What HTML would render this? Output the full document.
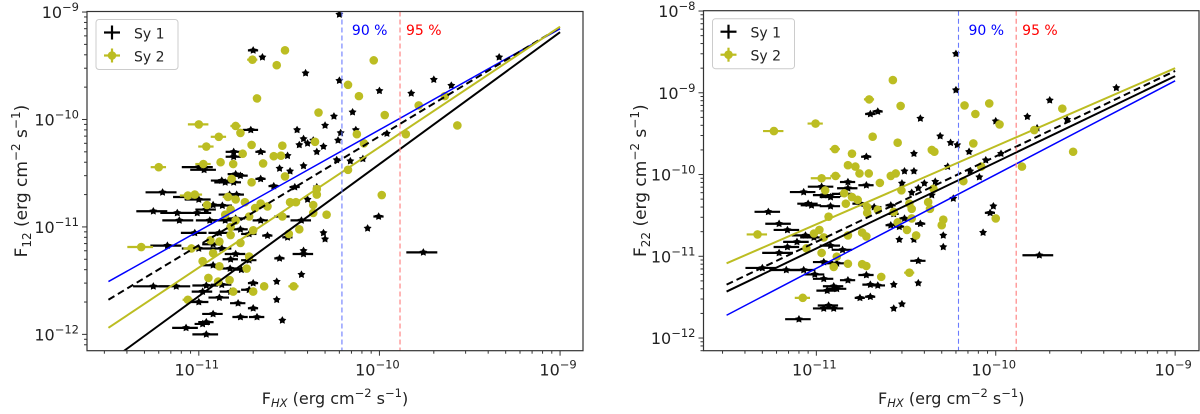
<!DOCTYPE html>
<html><head><meta charset="utf-8">
<style>
html,body{margin:0;padding:0;background:#fff;}
svg{display:block;font-family:"DejaVu Sans","Liberation Sans",sans-serif;}
</style></head>
<body>
<svg id="chart" width="1200" height="414" viewBox="0 0 1200 414" xmlns="http://www.w3.org/2000/svg"></svg>
<script>
// ---------- Panel 1 (F12 vs FHX) ----------
const p1Sy1X = [6.0e-11,2.0e-11,2.25e-11,3.9e-11,6.0e-11,2.0e-10,2.5e-10,4.6e-10,1.0e-10,1.5e-10,7.1e-11,5.6e-11,5.0e-11,1.94e-11,3.5e-11,7.4e-11,6.1e-11,1.1e-10,3.8e-11,4.3e-11,4.0e-11,3.6e-11,5.9e-11,4.9e-11,4.5e-11,1.56e-11,1.56e-11,2.2e-11,3.1e-11,5.8e-11,6.9e-11,8.1e-11,3.8e-11,1.0e-11,1.07e-11,2.8e-11,3.2e-11,1.6e-11,1.7e-11,2.2e-11,1.34e-11,1.4e-11,1.56e-11,2.6e-11,3.4e-11,4.5e-11,6.3e-12,8.6e-12,1.0e-11,1.48e-11,1.62e-11,4.0e-11,1.2e-11,1.35e-11,1.1e-11,5.6e-12,7.6e-12,9.8e-12,7.8e-12,1.15e-11,1.4e-11,1.6e-11,2.2e-11,2.9e-11,3.7e-11,4.9e-11,5.0e-11,8.6e-11,9.9e-11,9.5e-12,1.3e-11,1.7e-11,1.9e-11,2.4e-11,3.1e-11,6.7e-12,1.0e-11,1.34e-11,1.6e-11,1.2e-11,3.8e-11,3.8e-11,1.75e-10,2.8e-11,1.9e-11,1.5e-11,1.2e-11,1.49e-11,1.72e-11,3.7e-11,5.6e-12,7.5e-12,1.1e-11,1.34e-11,1.05e-11,1.5e-11,1.9e-11,2.0e-11,2.7e-11,2.7e-11,1.3e-11,1.0e-11,1.65e-11,2.0e-11,1.2e-11,1.1e-11,1.05e-11,8.5e-12,1.1e-11,1.7e-11,2.1e-11,2.9e-11];
const p1Sy1Y = [9.5e-10,4.4e-10,3.8e-10,2.7e-10,2.3e-10,2.35e-10,2.07e-10,3.8e-10,1.85e-10,1.75e-10,1.17e-10,1.07e-10,8.8e-11,8.0e-11,8.0e-11,8.0e-11,7.5e-11,7.4e-11,6.6e-11,6.4e-11,6.0e-11,5.8e-11,6.4e-11,5.6e-11,5.0e-11,5.0e-11,4.5e-11,5.0e-11,4.6e-11,4.2e-11,4.1e-11,4.3e-11,3.7e-11,3.6e-11,3.4e-11,3.5e-11,3.3e-11,3.1e-11,3.0e-11,2.8e-11,2.7e-11,2.6e-11,2.6e-11,2.4e-11,2.35e-11,2.35e-11,2.1e-11,1.9e-11,1.8e-11,2.0e-11,2.0e-11,1.8e-11,1.6e-11,1.58e-11,1.45e-11,1.4e-11,1.35e-11,1.35e-11,1.15e-11,1.15e-11,1.15e-11,1.2e-11,1.15e-11,1.25e-11,1.15e-11,8.8e-12,7.7e-12,9.7e-12,1.25e-11,8.8e-12,8.8e-12,9.5e-12,8.6e-12,8.3e-12,8.0e-12,6.7e-12,6.3e-12,6.3e-12,5.6e-12,6.9e-12,6.0e-12,5.6e-12,5.8e-12,5.1e-12,4.9e-12,5.0e-12,4.4e-12,4.1e-12,4.0e-12,3.6e-12,2.8e-12,2.8e-12,2.85e-12,2.9e-12,2.5e-12,2.5e-12,2.6e-12,3.0e-12,3.1e-12,2.1e-12,2.2e-12,2.0e-12,1.95e-12,1.75e-12,1.55e-12,1.3e-12,1.25e-12,1.15e-12,1.0e-12,1.45e-12,1.45e-12,1.35e-12];
const p1Sy1Xe = [0,.1,.05,0,0,0,0,0,0,0,0,0,0,.15,0,0,0,0,0,0,0,0,0,0,0,.15,.15,.1,0,0,0,0,0,.3,.25,0,0,.15,.15,.1,.2,.2,.15,.1,.1,0,.3,.25,.25,.2,.15,0,.2,.2,.2,.3,.3,.3,.3,.25,.2,.2,.15,.15,.2,0,0,0,.1,.25,.2,.15,.15,.1,.1,.3,.3,.2,.2,.2,0,.2,.3,.1,.15,.15,.2,.2,.15,0,.35,.3,.25,.2,.2,.2,.15,.1,0,0,.2,.2,.15,.1,.2,.15,.15,.25,.25,.15,.15,0];
const p1Sy2X = [3.0e-11,1.98e-11,2.7e-11,9.3e-11,2.1e-11,6.7e-11,7.7e-11,2.3e-10,1.65e-10,4.6e-11,1.07e-10,2.7e-10,1.0e-11,1.6e-11,1.7e-11,1.29e-11,7.5e-11,1.4e-10,1.1e-11,1.96e-11,2.9e-11,4.4e-11,8.2e-11,1.75e-11,2.6e-11,2.85e-11,2.27e-11,1.32e-11,1.06e-11,1.55e-11,6.0e-12,6.7e-11,3.0e-11,1.52e-11,1.96e-11,4.5e-11,4.5e-11,1.03e-10,9.5e-12,8.7e-12,1.45e-11,1.6e-11,1.8e-11,1.5e-11,1.11e-11,2.2e-11,2.05e-11,1.9e-11,2.4e-11,3.2e-11,3.45e-11,4.3e-11,5.1e-11,2.9e-11,4.3e-11,1.4e-11,1.6e-11,1.5e-11,3.6e-11,2.0e-11,1.16e-11,1.3e-11,1.5e-11,1.7e-11,1.2e-11,3.15e-11,4.8e-12,9.1e-12,1.9e-11,1.05e-11,1.3e-11,1.84e-11,1.48e-11,1.55e-11,2.0e-11,1.13e-11,1.28e-11,2.3e-11,3.35e-11,8.7e-12];
const p1Sy2Y = [4.4e-10,3.6e-10,3.2e-10,3.55e-10,1.57e-10,2.1e-10,1.65e-10,1.65e-10,1.35e-10,1.16e-10,1.1e-10,8.8e-11,9.0e-11,8.7e-11,7.5e-11,6.9e-11,7.3e-11,7.3e-11,5.6e-11,5.8e-11,5.7e-11,6.2e-11,6.0e-11,4.8e-11,4.55e-11,4.6e-11,3.9e-11,4.0e-11,3.85e-11,3.85e-11,3.6e-11,3.4e-11,2.95e-11,2.8e-11,2.6e-11,2.25e-11,2.0e-11,1.98e-11,2.0e-11,1.96e-11,1.9e-11,1.8e-11,1.7e-11,1.45e-11,1.6e-11,1.65e-11,1.5e-11,1.25e-11,1.55e-11,1.7e-11,1.7e-11,1.6e-11,1.3e-11,1.25e-11,1.35e-11,1.3e-11,1.15e-11,1.0e-11,9.5e-12,9.3e-12,7.5e-12,7.3e-12,8.4e-12,7.1e-12,5.7e-12,8.6e-12,6.5e-12,6.3e-12,5.3e-12,4.8e-12,4.3e-12,4.1e-12,3.2e-12,2.5e-12,2.5e-12,3.35e-12,3.1e-12,2.8e-12,2.8e-12,2.1e-12];
const p1Sy2Xe = [0,.1,0,0,0,0,0,0,0,0,0,0,.2,.1,0,.15,0,0,.15,0,0,0,0,0,.05,0,0,0,.15,0,.15,0,0,0,0,0,0,0,.15,.15,.1,0,0,0,0,0,0,0,0,0,0,0,0,0,0,0,0,0,0,0,0,0,0,0,0,0,.25,.15,0,0,0,0,0,0,0,0,0,0,.1,.1];
const fitX = [3.16e-12, 1e-9];
const p1FitBlue = [3.1e-12, 7.0e-10];
const p1FitDashed = [2.1e-12, 7.2e-10];
const p1FitSy2 = [1.15e-12, 7.3e-10];
const p1FitSy1 = [5.5e-13, 6.5e-10];
const cut90 = 6.2e-11, cut95 = 1.3e-10;

// ---------- Panel 2 (F22 vs FHX) ----------
const p2Sy1X = [6.0e-11,6.0e-11,2.0e-11,2.2e-11,3.8e-11,4.7e-10,2.0e-10,1.5e-10,1.0e-10,2.5e-10,1.7e-10,4.9e-11,5.6e-11,6.1e-11,7.1e-11,3.5e-11,1.9e-11,1.07e-10,8.8e-11,5.4e-11,3.1e-11,3.5e-11,8.1e-11,7.2e-11,4.6e-11,4.0e-11,1.5e-11,1.9e-11,1.5e-11,3.0e-11,3.7e-11,3.4e-11,4.4e-11,5.8e-11,8.5e-12,1.07e-11,1.1e-11,1.2e-11,1.4e-11,9.0e-12,1.2e-11,9.4e-12,1.76e-11,2.1e-11,2.6e-11,5.4e-12,6.2e-12,6.9e-12,8.7e-12,9.7e-12,9.7e-11,9.3e-11,2.7e-11,3.1e-11,3.8e-11,2.9e-11,2.6e-11,3.5e-11,2.9e-11,8.5e-11,5.1e-11,5.1e-11,7.8e-12,6.9e-12,6.2e-12,5.0e-12,6.8e-12,8.5e-12,1.2e-11,1.4e-11,1.1e-11,1.3e-11,9.8e-12,1.1e-11,1.5e-11,1.9e-11,2.0e-11,2.2e-11,3.7e-11,1.75e-10,3.7e-11,2.7e-11,1.75e-11,2.0e-11,2.7e-11,3.0e-11,1.1e-11,1.25e-11,1.17e-11,8.0e-12,1.25e-11,1.3e-11,1.15e-11];
const p2Sy1Y = [3.0e-9,1.08e-9,5.5e-10,5.9e-10,4.85e-10,1.15e-9,8.1e-10,5.1e-10,4.5e-10,4.7e-10,3.7e-10,2.95e-10,2.45e-10,2.3e-10,1.9e-10,1.8e-10,1.65e-10,1.8e-10,1.5e-10,1.25e-10,1.1e-10,1.1e-10,9.3e-11,1.1e-10,8.2e-11,7.8e-11,8.1e-11,7.4e-11,6.8e-11,7.8e-11,6.8e-11,6.0e-11,5.6e-11,5.1e-11,6.1e-11,7.1e-11,5.6e-11,5.3e-11,5.8e-11,4.4e-11,4.1e-11,4.2e-11,4.4e-11,4.0e-11,4.2e-11,3.5e-11,2.5e-11,2.1e-11,1.8e-11,1.7e-11,4.1e-11,3.4e-11,3.3e-11,2.9e-11,2.5e-11,2.3e-11,2.4e-11,1.6e-11,1.6e-11,1.95e-11,1.8e-11,1.3e-11,1.5e-11,1.3e-11,1.1e-11,7.2e-12,6.8e-12,6.8e-12,1.35e-11,1.2e-11,8.5e-12,8.2e-12,6.0e-12,5.3e-12,5.1e-12,5.9e-12,4.5e-12,4.4e-12,8.8e-12,1.03e-11,4.7e-12,4.5e-12,3.1e-12,3.2e-12,2.3e-12,2.6e-12,2.3e-12,2.3e-12,2.5e-12,1.7e-12,4.3e-12,4.0e-12,3.8e-12];
const p2Sy1Xe = [0,0,.1,.1,0,0,0,0,0,0,0,0,0,0,0,0,.1,0,0,0,0,0,0,0,0,0,.15,.15,.2,0,0,0,0,0,.25,.25,.2,.2,.2,.2,.2,.2,.15,.15,.1,.25,.25,.25,.25,.25,0,.1,.1,.1,.1,.1,.1,0,0,0,0,0,.25,.25,.3,.3,.3,.25,.2,.2,.2,.2,.2,.2,.15,.15,.15,.15,.15,.3,0,0,.1,.1,0,0,.2,.2,.2,.25,.2,.2,.2];
const p2Sy2X = [2.67e-11,1.97e-11,2.95e-11,6.7e-11,9.2e-11,7.7e-11,2.35e-10,9.9e-12,5.8e-12,2.06e-11,1.05e-10,1.64e-10,2.84e-11,7.5e-11,1.27e-11,4.4e-11,4.55e-11,1.58e-11,2.7e-10,1.5e-11,1.65e-11,1.74e-11,1.96e-11,1.28e-11,2.6e-11,2.77e-11,8.3e-11,1.4e-10,2.26e-11,6.6e-11,1.07e-11,1.12e-11,2.98e-11,4.5e-11,4.2e-11,4.3e-11,1.43e-11,1.58e-11,1.7e-11,1.46e-11,1.92e-11,2.2e-11,1.92e-11,3.3e-11,3.4e-11,1.17e-11,2.7e-11,2.84e-11,3.4e-11,3.2e-11,5.1e-11,5.0e-11,1.0e-10,1.04e-11,9.7e-12,1.1e-11,1.5e-11,1.8e-11,1.9e-11,3.6e-11,4.7e-12,8.8e-12,1.07e-11,1.3e-11,1.5e-11,1.25e-11,1.8e-11,1.9e-11,2.3e-11,3.3e-11,8.4e-12];
const p2Sy2Y = [1.43e-9,8.3e-10,6.9e-10,7.0e-10,7.4e-10,5.5e-10,6.4e-10,4.2e-10,3.4e-10,2.9e-10,4.1e-10,3.5e-10,2.45e-10,2.4e-10,2.05e-10,2.0e-10,1.9e-10,1.8e-10,1.9e-10,1.3e-10,1.25e-10,1.03e-10,1.03e-10,9.6e-11,9.6e-11,1.03e-10,1.25e-10,1.25e-10,7.9e-11,8.3e-11,9.0e-11,6.4e-11,6.4e-11,6.7e-11,4.6e-11,3.8e-11,5.9e-11,5.3e-11,4.9e-11,4.4e-11,4.0e-11,3.7e-11,3.4e-11,4.4e-11,3.8e-11,3.05e-11,3.5e-11,2.6e-11,2.9e-11,2.1e-11,2.8e-11,2.4e-11,2.9e-11,2.1e-11,1.9e-11,1.7e-11,1.8e-11,1.95e-11,1.75e-11,1.8e-11,1.85e-11,1.25e-11,1.1e-11,9.9e-12,8.1e-12,7.4e-12,8.0e-12,7.6e-12,5.6e-12,6.3e-12,3.1e-12];
const p2Sy2Xe = [0,.1,0,0,0,0,0,.15,.2,0,0,0,0,0,.1,0,0,0,0,0,0,0,0,.1,0,0,0,0,0,0,.2,0,0,0,0,0,0,0,0,0,0,0,0,0,0,0,0,0,0,0,0,0,0,0,0,0,0,0,0,0,.2,0,0,0,0,0,0,0,0,.1,.15];
const p2FitSy2 = [8.2e-12, 2.0e-9];
const p2FitDashed = [4.5e-12, 1.85e-9];
const p2FitSy1 = [3.7e-12, 1.6e-9];
const p2FitBlue = [1.9e-12, 1.4e-9];

const NS = "http://www.w3.org/2000/svg";
const svg = document.getElementById('chart');
const YEL = '#bcbd22';
const XE_SCALE = 0.65;
function mk(tag, attrs, parent){ const e=document.createElementNS(NS,tag); for(const k in attrs) e.setAttribute(k,attrs[k]); (parent||svg).appendChild(e); return e; }

function panel(cfg){
  const g = mk('g',{});
  
  
  const {L,R,T,B,xmin,xmax,ymin,ymax} = cfg;
  const sx = v => L + (Math.log10(v)-xmin)/(xmax-xmin)*(R-L);
  const sy = v => B - (Math.log10(v)-ymin)/(ymax-ymin)*(B-T);
  const cid = 'clip'+cfg.name;
  const cp = mk('clipPath',{id:cid},g); mk('rect',{x:L,y:T,width:R-L,height:B-T},cp);
  const plot = mk('g',{'clip-path':'url(#'+cid+')'},g);
  
  
  function series(xs,ys,xe,kind){
    const sg = mk('g',{},plot);
    
    
    const col = kind==='sy1'?'#000':YEL;
    for(let i=0;i<xs.length;i++){
      const cx=sx(xs[i]), cy=sy(ys[i]);
      if(xe[i]>0){
        const f = xe[i]*XE_SCALE;
        const e = mk('line',{x1:sx(xs[i]*(1-f)),x2:sx(xs[i]*(1+f)),y1:cy,y2:cy,stroke:col,'stroke-width':2.2},sg);
        
        
      }
      let m;
      if(kind==='sy1'){
        m = mk('path',{d:star(cx,cy,4.2),fill:'#000'},sg);
      } else {
        m = mk('circle',{cx:cx,cy:cy,r:4.3,fill:col},sg);
      }
      
      
    }
  }
  series(cfg.s1x,cfg.s1y,cfg.s1e,'sy1');
  series(cfg.s2x,cfg.s2y,cfg.s2e,'sy2');
  cfg.fits.forEach(f=>{
    const l = mk('line',{x1:sx(fitX[0]),y1:sy(f.v[0]),x2:sx(fitX[1]),y2:sy(f.v[1]),stroke:f.c,'stroke-width':f.w,'stroke-dasharray':f.d||'none'},plot);
    
    
  });
  [[cut90,'#6b7bff','line-90-percent'],[cut95,'#ff7b7b','line-95-percent']].forEach(c=>{
    const l = mk('line',{x1:sx(c[0]),x2:sx(c[0]),y1:T,y2:B,stroke:c[1],'stroke-width':1.1,'stroke-dasharray':'5,3'},plot);
    
    
  });
  const t90 = mk('text',{x:sx(cut90)+10,y:35,fill:'#0000ff','font-size':14},g); t90.textContent='90 %';
   
  const t95 = mk('text',{x:sx(cut95)+6,y:35,fill:'#ff0000','font-size':14},g); t95.textContent='95 %';
   
  const fr = mk('rect',{x:L,y:T,width:R-L,height:B-T,fill:'none',stroke:'#333','stroke-width':1.2},g);
   
  for(let d=Math.floor(xmin); d<=Math.ceil(xmax); d++){
    for(let m=1;m<10;m++){
      const lv = d+Math.log10(m); if(lv<xmin||lv>xmax) continue;
      const px = L+(lv-xmin)/(xmax-xmin)*(R-L);
      mk('line',{x1:px,x2:px,y1:B,y2:B+(m===1?5:3),stroke:'#333','stroke-width':1},g);
      if(m===1){
        const t=mk('text',{x:px-2,y:B+25,'font-size':16,'text-anchor':'middle',fill:'#222'},g);
         
        t.innerHTML='10<tspan dy="-7" font-size="11.5">'+'\u2212'+(-d)+'</tspan>';
      }
    }
  }
  for(let d=Math.floor(ymin); d<=Math.ceil(ymax); d++){
    for(let m=1;m<10;m++){
      const lv = d+Math.log10(m); if(lv<ymin-0.001||lv>ymax+0.001) continue;
      const py = B-(lv-ymin)/(ymax-ymin)*(B-T);
      mk('line',{x1:L,x2:L-(m===1?5:3),y1:py,y2:py,stroke:'#333','stroke-width':1},g);
      if(m===1){
        const t=mk('text',{x:L-8,y:py+6,'font-size':16,'text-anchor':'end',fill:'#222'},g);
         
        t.innerHTML='10<tspan dy="-7" font-size="11.5">'+'\u2212'+(-d)+'</tspan><tspan dy="7" font-size="4"> </tspan>';
      }
    }
  }
  const xt = mk('text',{x:(L+R)/2,y:404,'font-size':16,'text-anchor':'middle',fill:'#222'},g);
   
  xt.innerHTML='F<tspan dy="3" font-size="11.5" font-style="italic">HX</tspan><tspan dy="-3">'+cfg.xgap+'(erg cm</tspan><tspan dy="-7" font-size="11.5">\u22122</tspan><tspan dy="7"> s</tspan><tspan dy="-7" font-size="11.5">\u22121</tspan><tspan dy="7">)</tspan>';
  const yt = mk('text',{x:0,y:0,'font-size':17,'text-anchor':'middle',fill:'#222',transform:'translate('+cfg.ytx+','+((T+B)/2)+') rotate(-90)'},g);
   
  yt.innerHTML='F<tspan dy="4" font-size="12">'+cfg.ysub+'</tspan><tspan dy="-4"> (erg cm</tspan><tspan dy="-7" font-size="12">\u22122</tspan><tspan dy="7"> s</tspan><tspan dy="-7" font-size="12">\u22121</tspan><tspan dy="7">)</tspan>';
  const lg = mk('g',{},g);
   
  mk('rect',{x:L+9,y:T+8,width:82,height:50,rx:3,fill:'#fff',stroke:'#ccc','stroke-width':1},lg);
  const e1 = mk('g',{},lg);  
  mk('line',{x1:L+17,x2:L+33,y1:T+21,y2:T+21,stroke:'#000','stroke-width':2.2},e1);
  mk('line',{x1:L+25,x2:L+25,y1:T+14,y2:T+28,stroke:'#000','stroke-width':2.2},e1);
  const l1=mk('text',{x:L+47,y:T+27,'font-size':14,fill:'#222'},e1); l1.textContent='Sy 1';
  const e2 = mk('g',{},lg);  
  mk('line',{x1:L+17,x2:L+33,y1:T+44,y2:T+44,stroke:YEL,'stroke-width':2.2},e2);
  mk('line',{x1:L+25,x2:L+25,y1:T+37,y2:T+51,stroke:YEL,'stroke-width':2.2},e2);
  mk('circle',{cx:L+25,cy:T+44,r:4.3,fill:YEL},e2);
  const l2=mk('text',{x:L+47,y:T+50,'font-size':14,fill:'#222'},e2); l2.textContent='Sy 2';
}
function star(cx,cy,r){
  let d=''; for(let i=0;i<10;i++){ const a=-Math.PI/2+i*Math.PI/5; const rr=i%2?r*0.55:r; d+=(i?'L':'M')+(cx+rr*Math.cos(a)).toFixed(2)+','+(cy+rr*Math.sin(a)).toFixed(2);} return d+'Z';
}

panel({name:'panel-f12',L:87,R:583,T:11.5,B:350.7,xmin:-11.619,xmax:-8.873,ymin:-12.152,ymax:-8.995,
  s1x:p1Sy1X,s1y:p1Sy1Y,s1e:p1Sy1Xe,s2x:p1Sy2X,s2y:p1Sy2Y,s2e:p1Sy2Xe,ysub:'12',ytx:27,xgap:' ',
  fits:[{v:p1FitBlue,c:'#0000ff',w:1.5,n:'fit-line-blue'},{v:p1FitDashed,c:'#000',w:2,d:'7,4',n:'fit-line-dashed'},{v:p1FitSy2,c:YEL,w:2,n:'fit-line-sy2'},{v:p1FitSy1,c:'#000',w:2,n:'fit-line-sy1'}]});
panel({name:'panel-f22',L:703.5,R:1199,T:10.7,B:350.7,xmin:-11.629,xmax:-8.867,ymin:-12.155,ymax:-7.996,
  s1x:p2Sy1X,s1y:p2Sy1Y,s1e:p2Sy1Xe,s2x:p2Sy2X,s2y:p2Sy2Y,s2e:p2Sy2Xe,ysub:'22',ytx:646,xgap:'  ',
  fits:[{v:p2FitBlue,c:'#0000ff',w:1.5,n:'fit-line-blue'},{v:p2FitDashed,c:'#000',w:2,d:'7,4',n:'fit-line-dashed'},{v:p2FitSy2,c:YEL,w:2,n:'fit-line-sy2'},{v:p2FitSy1,c:'#000',w:2,n:'fit-line-sy1'}]});
</script>
</body></html>
